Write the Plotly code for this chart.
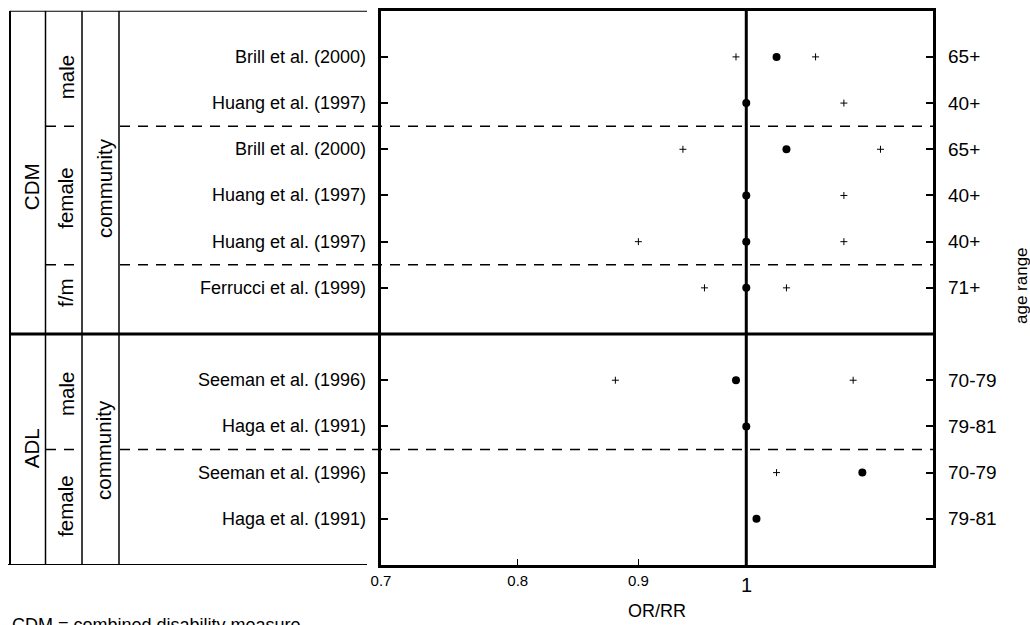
import math
import plotly.graph_objects as go

# ---------------- data ----------------
studies = ["Brill et al. (2000)", "Huang et al. (1997)", "Brill et al. (2000)",
           "Huang et al. (1997)", "Huang et al. (1997)", "Ferrucci et al. (1999)",
           "Seeman et al. (1996)", "Haga et al. (1991)", "Seeman et al. (1996)",
           "Haga et al. (1991)"]
age_ranges = ["65+", "40+", "65+", "40+", "40+", "71+", "70-79", "79-81", "70-79", "79-81"]
row_pos = [11, 10, 9, 8, 7, 6, 4, 3, 2, 1]
estimate = [1.03, 1.00, 1.04, 1.00, 1.00, 1.00, 0.99, 1.00, 1.12, 1.01]
ci_lower = [0.99, None, 0.94, None, 0.90, 0.96, 0.88, None, 1.03, None]
ci_upper = [1.07, 1.10, 1.14, 1.10, 1.10, 1.04, 1.11, None, None, None]

x_ticks = [0.7, 0.8, 0.9]
x_tick_text = ["0.7", "0.8", "0.9"]
ref_value = 1
ref_label = "1"

measures = ["CDM", "ADL"]
measure_pos = [8.18, 2.53]
sexes = ["male", "female", "f/m", "male", "female"]
sex_pos = [10.56, 7.95, 5.89, 3.7, 1.28]
settings = ["community", "community"]
setting_pos = [8.16, 2.49]
section_divider = 5
subgroup_dividers = [9.5, 6.5, 2.5]

# ---------------- layout constants ----------------
W, H = 1030, 625
FONT = "Liberation Sans, Arial, sans-serif"
px = lambda v: v / W          # horizontal pixel -> paper
py = lambda v: 1 - v / H      # vertical pixel -> paper

fig = go.Figure()

# reference line at OR/RR = 1
fig.add_trace(go.Scatter(x=[ref_value, ref_value], y=[0, 12], mode="lines",
                         line=dict(color="black", width=3), hoverinfo="skip",
                         showlegend=False))

# confidence limits
cx, cy = [], []
for lo, hi, r in zip(ci_lower, ci_upper, row_pos):
    for v in (lo, hi):
        if v is not None:
            cx.append(v)
            cy.append(r)
fig.add_trace(go.Scatter(x=cx, y=cy, mode="markers",
                         marker=dict(symbol="cross-thin", size=5, color="black",
                                     line=dict(color="black", width=1)),
                         showlegend=False))

# point estimates
fig.add_trace(go.Scatter(x=estimate, y=row_pos, mode="markers",
                         marker=dict(symbol="circle", size=8, color="black"),
                         showlegend=False))

shapes = []
# thick section divider across table and plot
shapes.append(dict(type="line", xref="paper", yref="y", x0=px(10), x1=px(933),
                   y0=section_divider, y1=section_divider,
                   line=dict(color="black", width=3)))
# dashed subgroup dividers
for yv in subgroup_dividers:
    for a, b in ((46, 82), (120, 933)):
        shapes.append(dict(type="line", xref="paper", yref="y", x0=px(a), x1=px(b),
                           y0=yv, y1=yv,
                           line=dict(color="black", width=1.5, dash="10px,8px")))
# table frame
shapes.append(dict(type="line", xref="paper", yref="y", x0=px(10), x1=px(10),
                   y0=0, y1=12, line=dict(color="black", width=2)))
for xv in (45.5, 82, 119):
    shapes.append(dict(type="line", xref="paper", yref="y", x0=px(xv), x1=px(xv),
                       y0=-0.05, y1=12, line=dict(color="black", width=1.5)))
shapes.append(dict(type="line", xref="paper", yref="y", x0=px(10), x1=px(367),
                   y0=12, y1=12, line=dict(color="black", width=2)))
shapes.append(dict(type="line", xref="paper", yref="y", x0=px(8), x1=px(367),
                   y0=0, y1=0, line=dict(color="black", width=2)))

annotations = []
for s, a, r in zip(studies, age_ranges, row_pos):
    annotations.append(dict(text=s, xref="paper", yref="y", x=px(368), y=r,
                            xanchor="right", yanchor="middle", showarrow=False,
                            font=dict(size=18, family=FONT, color="black")))
    annotations.append(dict(text=a, xref="paper", yref="y", x=px(946), y=r,
                            xanchor="left", yanchor="middle", showarrow=False,
                            font=dict(size=19, family=FONT, color="black")))
rot = dict(textangle=-90, showarrow=False, xanchor="center", yanchor="middle",
           xref="paper", yref="y")
for t, p in zip(measures, measure_pos):
    annotations.append(dict(text=t, x=px(31), y=p,
                            font=dict(size=20.5, family=FONT, color="black"), **rot))
for t, p in zip(sexes, sex_pos):
    annotations.append(dict(text=t, x=px(66), y=p,
                            font=dict(size=20.5, family=FONT, color="black"), **rot))
for t, p in zip(settings, setting_pos):
    annotations.append(dict(text=t, x=px(104), y=p,
                            font=dict(size=20.5, family=FONT, color="black"), **rot))
# large "1" tick label
annotations.append(dict(text=ref_label, xref="x", yref="paper", x=math.log10(ref_value),
                        y=py(585), xanchor="center", yanchor="middle", showarrow=False,
                        font=dict(size=20, family=FONT, color="black")))
# axis titles
annotations.append(dict(text="OR/RR", xref="paper", yref="paper", x=px(657), y=py(611),
                        xanchor="center", yanchor="middle", showarrow=False,
                        font=dict(size=18, family=FONT, color="black")))
annotations.append(dict(text="age range", xref="paper", yref="paper", x=px(1021), y=py(286),
                        textangle=-90, showarrow=False, xanchor="center", yanchor="middle",
                        font=dict(size=17, family=FONT, color="black")))
annotations.append(dict(text="CDM = combined disability measure", xref="paper", yref="paper",
                        x=px(10), y=py(613), xanchor="left", yanchor="top", showarrow=False,
                        font=dict(size=18, family=FONT, color="black")))

fig.update_layout(
    width=W, height=H, margin=dict(l=0, r=0, t=0, b=0),
    paper_bgcolor="white", plot_bgcolor="white",
    font=dict(family=FONT, color="black"),
    showlegend=False,
    shapes=shapes, annotations=annotations,
    xaxis=dict(type="log", range=[math.log10(0.7), math.log10(1.2)],
               domain=[px(381), px(933)],
               showline=True, linewidth=3, linecolor="black", mirror=True,
               ticks="inside", ticklen=6, tickwidth=1, tickcolor="black",
               tickvals=x_ticks, ticktext=x_tick_text,
               tickfont=dict(size=15, family=FONT, color="black"),
               showgrid=False, zeroline=False, automargin=False),
    yaxis=dict(range=[0, 12], domain=[py(565), py(10.7)],
               showline=True, linewidth=3, linecolor="black", mirror="ticks",
               ticks="inside", ticklen=7, tickwidth=2, tickcolor="black",
               tickvals=row_pos, showticklabels=False,
               showgrid=False, zeroline=False, automargin=False),
)

fig.write_html("out.html")
